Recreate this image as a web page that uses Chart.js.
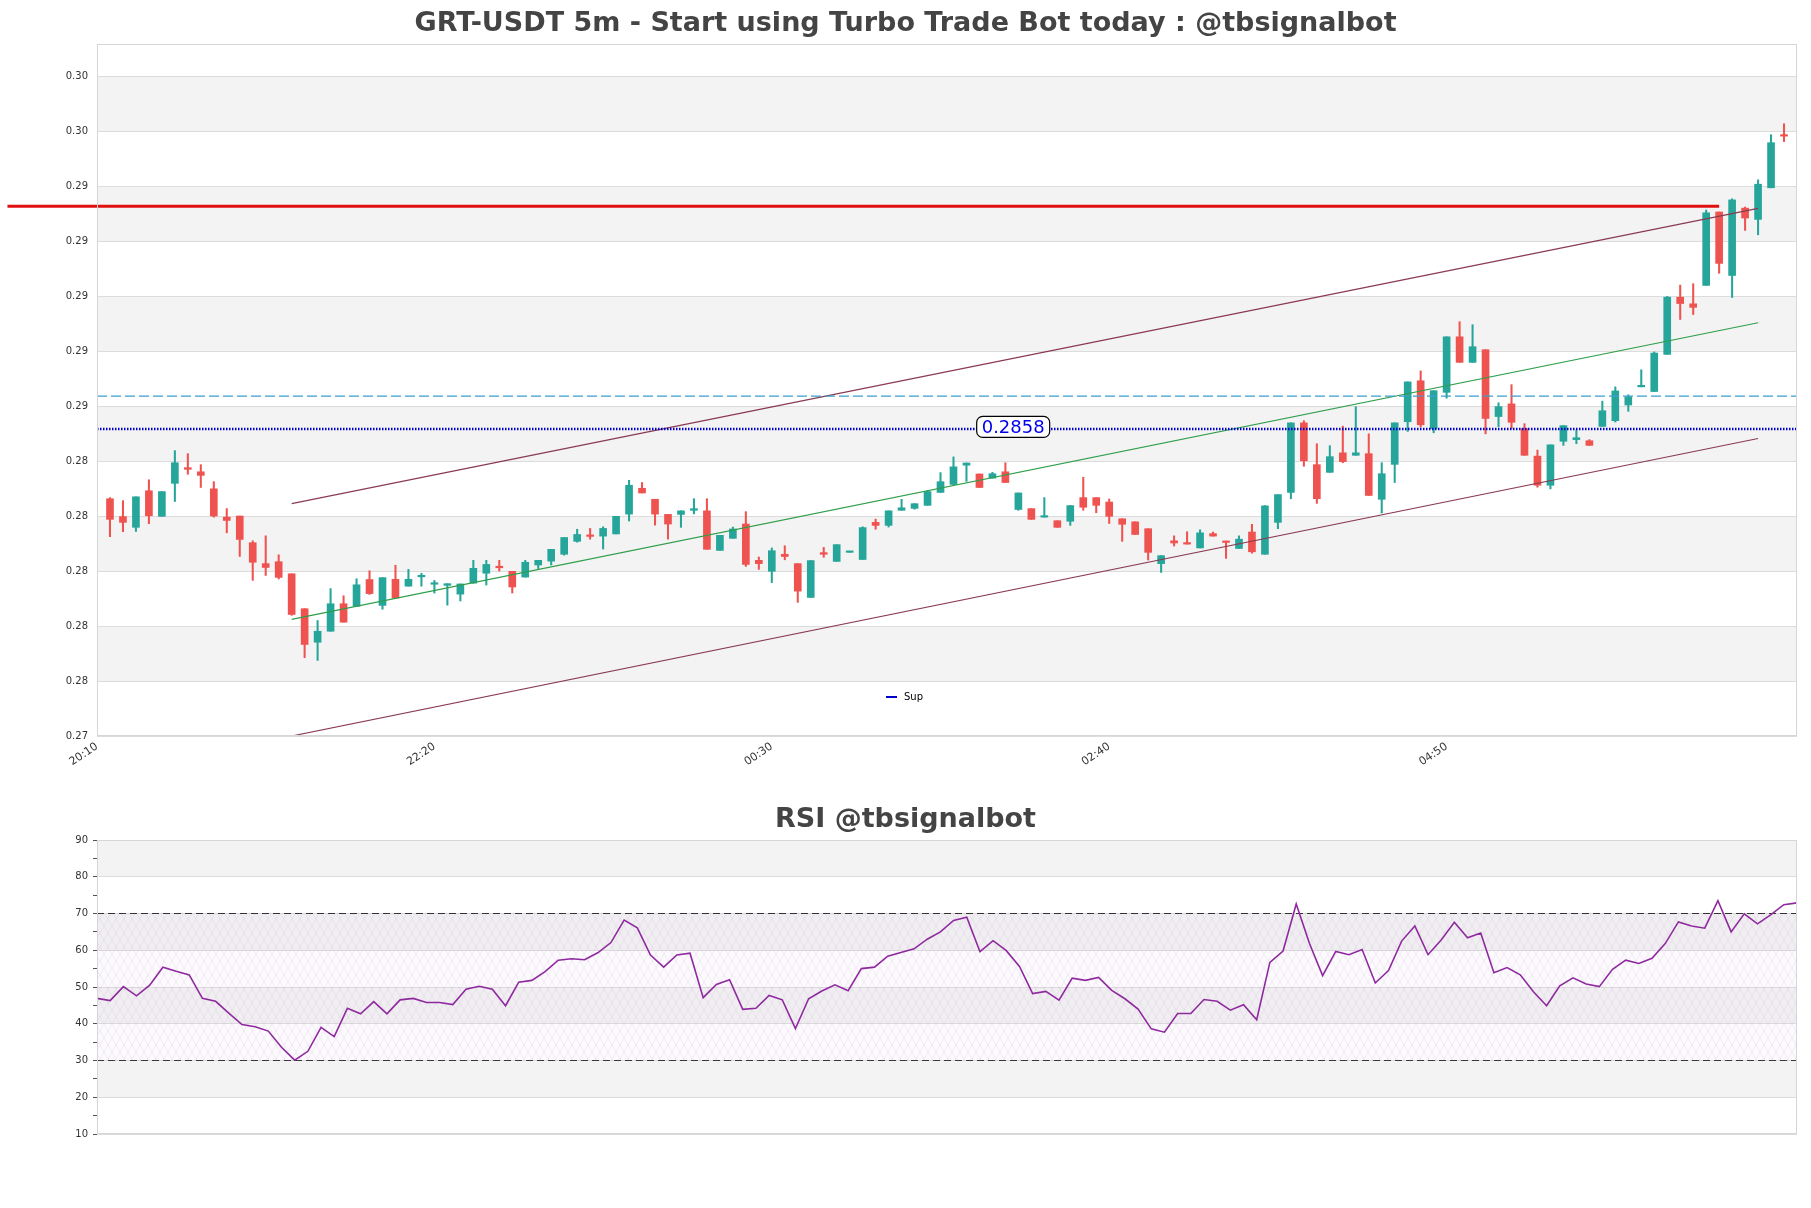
<!DOCTYPE html>
<html>
<head>
<meta charset="utf-8">
<title>GRT-USDT 5m</title>
<script src="https://cdn.jsdelivr.net/npm/chart.js@4.4.1/dist/chart.umd.min.js"></script>
<style>
  html, body { margin: 0; padding: 0; background: #ffffff; }
  #wrap { position: relative; width: 1811px; height: 1208px; }
  .panel { position: absolute; left: 0; width: 1811px; }
</style>
</head>
<body>
<div id="wrap">
  <div class="panel" style="top:0; height:800px;"><canvas id="priceChart"></canvas></div>
  <div class="panel" style="top:800px; height:408px;"><canvas id="rsiChart"></canvas></div>
</div>
<script>
// ---- data (5m candles, index 1..130) ----
const opens = [
  0.28326, 0.28261, 0.28222, 0.28355, 0.28262, 0.28382, 0.28439, 0.28424, 0.28362, 0.28259,
  0.28263, 0.28166, 0.28090, 0.28097, 0.28053, 0.27926, 0.27804, 0.27844, 0.27944, 0.27935,
  0.28032, 0.27938, 0.28033, 0.28008, 0.28042, 0.28015, 0.28011, 0.27979, 0.28019, 0.28055,
  0.28080, 0.28062, 0.28041, 0.28085, 0.28099, 0.28124, 0.28171, 0.28194, 0.28190, 0.28198,
  0.28270, 0.28364, 0.28324, 0.28269, 0.28269, 0.28284, 0.28282, 0.28138, 0.28182, 0.28234,
  0.28102, 0.28062, 0.28124, 0.28090, 0.27967, 0.28130, 0.28098, 0.28131, 0.28105, 0.28240,
  0.28229, 0.28284, 0.28291, 0.28302, 0.28349, 0.28378, 0.28448, 0.28416, 0.28401, 0.28424,
  0.28287, 0.28290, 0.28259, 0.28246, 0.28244, 0.28330, 0.28330, 0.28314, 0.28253, 0.28242,
  0.28217, 0.28090, 0.28173, 0.28166, 0.28147, 0.28199, 0.28172, 0.28145, 0.28205, 0.28124,
  0.28240, 0.28349, 0.28602, 0.28450, 0.28422, 0.28493, 0.28484, 0.28490, 0.28324, 0.28451,
  0.28606, 0.28755, 0.28581, 0.28713, 0.28915, 0.28822, 0.28868, 0.28625, 0.28671, 0.28581,
  0.28481, 0.28375, 0.28535, 0.28541, 0.28537, 0.28589, 0.28610, 0.28667, 0.28733, 0.28716,
  0.28851, 0.29059, 0.29035, 0.29102, 0.29369, 0.29138, 0.29383, 0.29342, 0.29457, 0.29650
];
const highs = [
  0.28330, 0.28319, 0.28333, 0.28395, 0.28352, 0.28501, 0.28490, 0.28450, 0.28388, 0.28290,
  0.28263, 0.28173, 0.28191, 0.28122, 0.28053, 0.27926, 0.27883, 0.27999, 0.27973, 0.28035,
  0.28064, 0.28039, 0.28084, 0.28069, 0.28055, 0.28029, 0.28017, 0.28016, 0.28102, 0.28102,
  0.28102, 0.28062, 0.28102, 0.28102, 0.28142, 0.28185, 0.28215, 0.28218, 0.28224, 0.28262,
  0.28393, 0.28385, 0.28324, 0.28269, 0.28282, 0.28326, 0.28326, 0.28193, 0.28223, 0.28279,
  0.28114, 0.28147, 0.28155, 0.28090, 0.28101, 0.28149, 0.28159, 0.28133, 0.28224, 0.28252,
  0.28282, 0.28324, 0.28308, 0.28356, 0.28421, 0.28478, 0.28456, 0.28416, 0.28422, 0.28457,
  0.28347, 0.28290, 0.28330, 0.28246, 0.28301, 0.28404, 0.28330, 0.28325, 0.28253, 0.28242,
  0.28217, 0.28119, 0.28191, 0.28206, 0.28213, 0.28205, 0.28172, 0.28191, 0.28233, 0.28301,
  0.28341, 0.28602, 0.28610, 0.28526, 0.28519, 0.28590, 0.28661, 0.28562, 0.28457, 0.28602,
  0.28751, 0.28791, 0.28719, 0.28915, 0.28970, 0.28959, 0.28868, 0.28675, 0.28741, 0.28599,
  0.28503, 0.28522, 0.28592, 0.28575, 0.28541, 0.28681, 0.28733, 0.28704, 0.28795, 0.28860,
  0.29062, 0.29103, 0.29108, 0.29376, 0.29369, 0.29417, 0.29387, 0.29486, 0.29650, 0.29690
];
const lows = [
  0.28188, 0.28206, 0.28207, 0.28235, 0.28262, 0.28316, 0.28415, 0.28367, 0.28259, 0.28202,
  0.28116, 0.28029, 0.28047, 0.28034, 0.27902, 0.27748, 0.27738, 0.27844, 0.27877, 0.27935,
  0.27978, 0.27924, 0.27965, 0.28008, 0.28008, 0.27983, 0.27939, 0.27954, 0.28019, 0.28012,
  0.28063, 0.27983, 0.28041, 0.28072, 0.28085, 0.28121, 0.28168, 0.28179, 0.28143, 0.28198,
  0.28245, 0.28347, 0.28230, 0.28179, 0.28222, 0.28271, 0.28142, 0.28138, 0.28182, 0.28080,
  0.28069, 0.28021, 0.28104, 0.27949, 0.27967, 0.28113, 0.28098, 0.28131, 0.28105, 0.28215,
  0.28223, 0.28284, 0.28288, 0.28302, 0.28349, 0.28378, 0.28389, 0.28367, 0.28401, 0.28385,
  0.28284, 0.28251, 0.28259, 0.28222, 0.28229, 0.28284, 0.28275, 0.28236, 0.28171, 0.28196,
  0.28103, 0.28058, 0.28154, 0.28161, 0.28147, 0.28190, 0.28109, 0.28145, 0.28128, 0.28124,
  0.28217, 0.28326, 0.28444, 0.28309, 0.28422, 0.28457, 0.28484, 0.28338, 0.28274, 0.28385,
  0.28571, 0.28587, 0.28566, 0.28692, 0.28822, 0.28822, 0.28562, 0.28588, 0.28581, 0.28484,
  0.28368, 0.28362, 0.28520, 0.28526, 0.28520, 0.28589, 0.28605, 0.28644, 0.28733, 0.28716,
  0.28851, 0.28978, 0.28996, 0.29102, 0.29146, 0.29058, 0.29302, 0.29286, 0.29457, 0.29625
];
const closes = [
  0.28251, 0.28240, 0.28333, 0.28264, 0.28352, 0.28457, 0.28433, 0.28411, 0.28263, 0.28247,
  0.28178, 0.28095, 0.28076, 0.28040, 0.27905, 0.27796, 0.27844, 0.27944, 0.27877, 0.28013,
  0.27981, 0.28039, 0.27965, 0.28033, 0.28046, 0.28017, 0.28017, 0.28016, 0.28073, 0.28087,
  0.28075, 0.28005, 0.28095, 0.28102, 0.28142, 0.28185, 0.28196, 0.28189, 0.28218, 0.28262,
  0.28375, 0.28347, 0.28270, 0.28234, 0.28282, 0.28290, 0.28142, 0.28193, 0.28216, 0.28087,
  0.28090, 0.28137, 0.28116, 0.27990, 0.28101, 0.28124, 0.28159, 0.28133, 0.28221, 0.28229,
  0.28282, 0.28293, 0.28308, 0.28352, 0.28388, 0.28442, 0.28456, 0.28367, 0.28417, 0.28385,
  0.28347, 0.28251, 0.28262, 0.28222, 0.28301, 0.28295, 0.28302, 0.28262, 0.28233, 0.28196,
  0.28131, 0.28119, 0.28165, 0.28161, 0.28202, 0.28190, 0.28167, 0.28179, 0.28133, 0.28300,
  0.28341, 0.28602, 0.28464, 0.28326, 0.28479, 0.28461, 0.28493, 0.28338, 0.28417, 0.28602,
  0.28751, 0.28595, 0.28719, 0.28915, 0.28822, 0.28879, 0.28618, 0.28661, 0.28604, 0.28484,
  0.28375, 0.28522, 0.28592, 0.28548, 0.28520, 0.28646, 0.28718, 0.28697, 0.28737, 0.28856,
  0.29059, 0.29036, 0.29022, 0.29366, 0.29182, 0.29413, 0.29347, 0.29470, 0.29621, 0.29645
];
const rsiValues = [
  46.9, 46.3, 50.1, 47.6, 50.5, 55.4, 54.3, 53.3, 46.9, 46.1,
  42.9, 39.8, 39.2, 38.0, 33.6, 30.1, 32.5, 39.0, 36.5, 44.2,
  42.7, 46.0, 42.7, 46.5, 46.9, 45.8, 45.8, 45.2, 49.4, 50.2,
  49.4, 44.9, 51.3, 51.8, 54.2, 57.3, 57.7, 57.4, 59.3, 62.1,
  68.2, 66.1, 58.7, 55.4, 58.7, 59.2, 47.1, 50.7, 52.0, 43.9,
  44.2, 47.7, 46.5, 38.7, 46.8, 48.9, 50.6, 49.0, 55.0, 55.4,
  58.4, 59.4, 60.4, 63.0, 65.0, 68.1, 69.0, 59.6, 62.6, 59.9,
  55.6, 48.2, 48.8, 46.4, 52.4, 51.8, 52.6, 49.1, 46.8, 44.0,
  38.6, 37.7, 42.8, 42.8, 46.6, 46.1, 43.7, 45.2, 41.1, 56.7,
  59.8, 72.6, 61.9, 53.1, 59.7, 58.8, 60.2, 51.1, 54.5, 62.5,
  66.6, 58.8, 62.8, 67.6, 63.4, 64.7, 53.9, 55.3, 53.3, 48.7,
  44.9, 50.3, 52.5, 50.8, 50.1, 54.8, 57.3, 56.4, 57.8, 61.8,
  67.7, 66.6, 66.0, 73.5, 65.0, 69.9, 67.2, 69.6, 72.4, 72.9
];

// channel lines (start / end candle index and prices)
const channelX = [15, 128];
const upperLine = [0.28308, 0.29382];
const midLine = [0.27887, 0.28966];
const lowerLine = [0.27463, 0.28545];

// horizontal levels
const supLevel = 0.2858;
const dashLevel = 0.28699;
const resLevel = 0.29390;
const resX = [-6.9, 125];

// axes
const priceMin = 0.27463;
const priceMax = 0.29980;
const priceTicks = [0.27463, 0.27663, 0.27863, 0.28063, 0.28263, 0.28463, 0.28663,
                    0.28863, 0.29063, 0.29263, 0.29463, 0.29663, 0.29863];
const priceTickLabels = ['0.27', '0.28', '0.28', '0.28', '0.28', '0.28', '0.29',
                         '0.29', '0.29', '0.29', '0.29', '0.30', '0.30'];
const timeTickIdx = [0, 26, 52, 78, 104];
const timeTickLabels = ['20:10', '22:20', '00:30', '02:40', '04:50'];
const rsiUpper = 70;
const rsiLower = 30;

const UP = '#26a69a';
const DOWN = '#ef5350';
const FONT = 'DejaVu Sans';

// ---- price chart ----
const idx = opens.map((_, i) => i + 1);
const bodyData = idx.map((x, i) => ({ x: x, y: [opens[i], closes[i]] }));
const wickData = idx.map((x, i) => ({ x: x, y: [lows[i], highs[i]] }));
const candleColors = idx.map((x, i) => closes[i] >= opens[i] ? UP : DOWN);

function twoPoints(xs, ys) {
    return [{ x: xs[0], y: ys[0] }, { x: xs[1], y: ys[1] }];
}

const priceDecor = {
    id: 'priceDecor',
    beforeDraw(chart) {
        const { ctx, chartArea: a, scales: { y } } = chart;
        ctx.save();
        ctx.fillStyle = '#f3f3f3';
        for (let k = 1; k < priceTicks.length - 1; k += 2) {
            const top = y.getPixelForValue(priceTicks[k + 1]);
            const bot = y.getPixelForValue(priceTicks[k]);
            ctx.fillRect(a.left, top, a.right - a.left, bot - top);
        }
        ctx.restore();
    },
    afterDraw(chart) {
        const { ctx, chartArea: a, scales: { x, y } } = chart;
        ctx.save();
        // frame
        ctx.strokeStyle = '#d6d6d6';
        ctx.lineWidth = 1;
        ctx.strokeRect(a.left + 0.5, a.top + 0.5, a.right - a.left - 1, a.bottom - a.top - 1);

        // level label box
        const txt = supLevel.toFixed(4);
        ctx.font = '18px ' + FONT;
        const w = ctx.measureText(txt).width + 10;
        const cx = x.getPixelForValue(70.6);
        const cy = y.getPixelForValue(supLevel) - 2;
        ctx.beginPath();
        ctx.roundRect(cx - w / 2, cy - 10.5, w, 21, 6);
        ctx.fillStyle = '#ffffff';
        ctx.fill();
        ctx.strokeStyle = '#000000';
        ctx.lineWidth = 1.2;
        ctx.stroke();
        ctx.fillStyle = '#0000ee';
        ctx.textAlign = 'center';
        ctx.textBaseline = 'middle';
        ctx.fillText(txt, cx, cy + 1);

        // legend
        const lx = x.getPixelForValue(60.8);
        const ly = a.bottom - 39;
        ctx.strokeStyle = '#0000cc';
        ctx.lineWidth = 2;
        ctx.beginPath();
        ctx.moveTo(lx, ly);
        ctx.lineTo(lx + 11, ly);
        ctx.stroke();
        ctx.fillStyle = '#000000';
        ctx.font = '10px ' + FONT;
        ctx.textAlign = 'left';
        ctx.fillText('Sup', lx + 18, ly);

        // title
        ctx.fillStyle = '#444444';
        ctx.font = 'bold 27px ' + FONT;
        ctx.textAlign = 'center';
        ctx.fillText('GRT-USDT 5m - Start using Turbo Trade Bot today : @tbsignalbot', chart.width / 2, 24);
        ctx.restore();
    }
};

const priceCtx = document.getElementById('priceChart').getContext('2d');
const priceChart = new Chart(priceCtx, {
    type: 'bar',
    data: {
        datasets: [
            {
                type: 'line', data: twoPoints([0, 131], [dashLevel, dashLevel]),
                borderColor: '#3a9fcf', borderWidth: 1.3, borderDash: [10, 4], pointRadius: 0, order: 1
            },
            {
                type: 'line', data: twoPoints([0, 131], [supLevel, supLevel]),
                borderColor: '#0000cc', borderWidth: 2.5, borderDash: [1.5, 1.5], pointRadius: 0, order: 1
            },
            {
                type: 'line', data: twoPoints(resX, [resLevel, resLevel]),
                borderColor: '#e01010', borderWidth: 3, pointRadius: 0, clip: false, order: 1
            },
            {
                type: 'line', data: twoPoints(channelX, upperLine),
                borderColor: '#8a3a52', borderWidth: 1.2, pointRadius: 0, order: 1
            },
            {
                type: 'line', data: twoPoints(channelX, lowerLine),
                borderColor: '#8a3a52', borderWidth: 1.2, pointRadius: 0, order: 1
            },
            {
                type: 'line', data: twoPoints(channelX, midLine),
                borderColor: '#2f9e4a', borderWidth: 1.2, pointRadius: 0, order: 1
            },
            {
                label: 'wick', data: wickData, backgroundColor: candleColors,
                barThickness: 1.4, grouped: false, order: 10
            },
            {
                label: 'body', data: bodyData, backgroundColor: candleColors,
                barThickness: 7, minBarLength: 1.5, grouped: false, order: 9
            }
        ]
    },
    options: {
        responsive: true,
        maintainAspectRatio: false,
        animation: false,
        events: [],
        layout: { padding: { left: 0, right: 14, top: 44, bottom: 0 } },
        scales: {
            x: {
                type: 'linear', min: 0, max: 131, offset: false,
                afterBuildTicks: s => { s.ticks = timeTickIdx.map(v => ({ value: v })); },
                afterFit: s => { s.height = 64; },
                ticks: {
                    autoSkip: false, minRotation: 34, maxRotation: 34, padding: -4,
                    callback: (v, i) => timeTickLabels[i],
                    color: '#333', font: { family: FONT, size: 11 }
                },
                grid: { display: false },
                border: { display: false }
            },
            y: {
                type: 'linear', min: priceMin, max: priceMax,
                afterBuildTicks: s => { s.ticks = priceTicks.map(v => ({ value: v })); },
                afterFit: s => { s.width = 97; },
                ticks: {
                    padding: 9,
                    callback: (v, i) => priceTickLabels[i],
                    color: '#333', font: { family: FONT, size: 10 }
                },
                grid: { color: '#dcdcdc', drawTicks: false },
                border: { display: false }
            }
        },
        plugins: {
            legend: { display: false },
            tooltip: { enabled: false }
        }
    },
    plugins: [priceDecor]
});

// ---- RSI chart ----
const rsiCtx = document.getElementById('rsiChart').getContext('2d');

function hatchPattern(ctx) {
    const c = document.createElement('canvas');
    c.width = 8;
    c.height = 14;
    const g = c.getContext('2d');
    g.fillStyle = 'rgba(215, 185, 230, 0.07)';
    g.fillRect(0, 0, 8, 14);
    g.strokeStyle = 'rgba(175, 135, 200, 0.28)';
    g.lineWidth = 0.5;
    g.beginPath();
    g.moveTo(0, 0); g.lineTo(8, 14);
    g.moveTo(8, 0); g.lineTo(0, 14);
    g.stroke();
    return ctx.createPattern(c, 'repeat');
}

const rsiDecor = {
    id: 'rsiDecor',
    beforeDraw(chart) {
        const { ctx, chartArea: a, scales: { y } } = chart;
        ctx.save();
        ctx.fillStyle = '#f3f3f3';
        [20, 40, 60, 80].forEach(v => {
            const top = y.getPixelForValue(v + 10);
            const bot = y.getPixelForValue(v);
            ctx.fillRect(a.left, top, a.right - a.left, bot - top);
        });
        ctx.restore();
    },
    afterDraw(chart) {
        const { ctx, chartArea: a } = chart;
        ctx.save();
        ctx.strokeStyle = '#d6d6d6';
        ctx.lineWidth = 1;
        ctx.strokeRect(a.left + 0.5, a.top + 0.5, a.right - a.left - 1, a.bottom - a.top - 1);
        ctx.fillStyle = '#444444';
        ctx.font = 'bold 27px ' + FONT;
        ctx.textAlign = 'center';
        ctx.textBaseline = 'middle';
        ctx.fillText('RSI @tbsignalbot', chart.width / 2, 20);
        ctx.restore();
    }
};

const rsiChart = new Chart(rsiCtx, {
    type: 'line',
    data: {
        datasets: [
            {
                data: rsiValues.map((v, i) => ({ x: i + 1, y: v })),
                borderColor: '#8e2a9e', borderWidth: 1.6, pointRadius: 0, order: 1
            },
            {
                data: twoPoints([1, 130], [rsiUpper, rsiUpper]),
                borderColor: '#333333', borderWidth: 1.2, borderDash: [7, 4], pointRadius: 0,
                fill: { value: rsiLower }, backgroundColor: hatchPattern(rsiCtx), order: 3
            },
            {
                data: twoPoints([1, 130], [rsiLower, rsiLower]),
                borderColor: '#333333', borderWidth: 1.2, borderDash: [7, 4], pointRadius: 0, order: 3
            }
        ]
    },
    options: {
        responsive: true,
        maintainAspectRatio: false,
        animation: false,
        events: [],
        layout: { padding: { left: 0, right: 14, top: 40, bottom: 0 } },
        scales: {
            x: {
                type: 'linear', min: 1, max: 130,
                afterFit: s => { s.height = 74; },
                ticks: { display: false },
                grid: { display: false },
                border: { display: false }
            },
            y: {
                type: 'linear', min: 10, max: 90,
                afterFit: s => { s.width = 97; },
                ticks: {
                    stepSize: 5, padding: 5, autoSkip: false,
                    callback: v => v % 10 === 0 ? v : '',
                    color: '#333', font: { family: FONT, size: 10 }
                },
                grid: {
                    color: c => (c.tick && c.tick.value % 10 === 0) ? '#dcdcdc' : 'rgba(0,0,0,0)',
                    tickColor: '#555', tickLength: 4
                },
                border: { display: false }
            }
        },
        plugins: {
            legend: { display: false },
            tooltip: { enabled: false }
        }
    },
    plugins: [rsiDecor]
});
</script>
</body>
</html>
